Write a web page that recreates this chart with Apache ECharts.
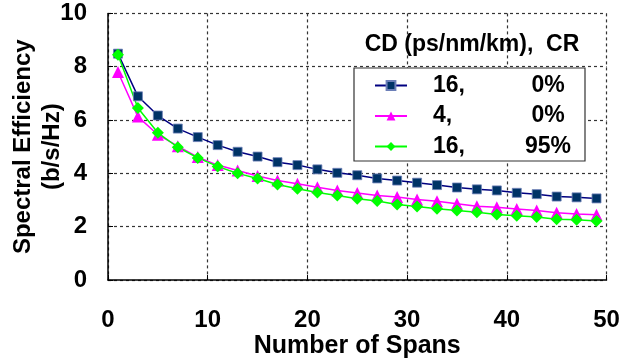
<!DOCTYPE html>
<html>
<head>
<meta charset="utf-8">
<script src="https://cdn.jsdelivr.net/npm/echarts@6/dist/echarts.min.js"></script>
<style>
html,body{margin:0;padding:0;background:#fff;}
#c{width:622px;height:363px;}
</style>
</head>
<body>
<div id="c"></div>
<script>
var spans = [1,3,5,7,9,11,13,15,17,19,21,23,25,27,29,31,33,35,37,39,41,43,45,47,49];
var cd16cr0 = [8.49,6.89,6.17,5.68,5.36,5.06,4.81,4.63,4.42,4.31,4.15,4.02,3.93,3.81,3.73,3.65,3.56,3.47,3.40,3.36,3.27,3.22,3.13,3.10,3.06];
var cd4cr0 = [7.80,6.13,5.45,5.02,4.61,4.31,4.11,3.90,3.73,3.61,3.48,3.36,3.26,3.17,3.11,3.02,2.95,2.86,2.77,2.73,2.66,2.61,2.52,2.48,2.45];
var cd16cr95 = [8.45,6.45,5.52,4.98,4.58,4.26,4.00,3.81,3.58,3.42,3.28,3.17,3.05,2.96,2.83,2.76,2.67,2.61,2.54,2.46,2.41,2.36,2.28,2.26,2.21];
var seriesNames = ['16,0%','4,0%','16,95%'];
var xTicks = [0,10,20,30,40,50];
var yTicks = [0,2,4,6,8,10];

function pairs(ys){ return spans.map(function(x,i){ return [x, ys[i]]; }); }

var FONT = "'Liberation Sans', Arial, sans-serif";
var chart = echarts.init(document.getElementById('c'), null, {renderer:'canvas'});
var gridLine = {show:true, lineStyle:{color:'#333', type:[3,3], width:1.2}};
chart.setOption({
  animation:false,
  backgroundColor:'#fff',
  grid:{left:108, right:15.5, top:13.4, bottom:83, containLabel:false, outerBoundsMode:'none'},
  xAxis:{
    type:'value', min:0, max:50, interval:10,
    name:'Number of Spans', nameLocation:'middle', nameGap:54, nameMoveOverlap:false,
    nameTextStyle:{fontFamily:FONT, fontWeight:'bold', fontSize:25, color:'#000'},
    axisLine:{show:true, onZero:false, lineStyle:{color:'#000', width:1.5}},
    axisTick:{show:true, inside:true, length:5, lineStyle:{color:'#000'}},
    axisLabel:{margin:28, fontFamily:FONT, fontWeight:'bold', fontSize:24, color:'#000',
      formatter:function(v){ return xTicks.indexOf(v)>=0 ? String(v) : ''; }},
    splitLine:gridLine
  },
  yAxis:{
    type:'value', min:0, max:10, interval:2,
    name:'Spectral Efficiency\n(b/s/Hz)', nameLocation:'middle', nameGap:41, nameRotate:90, nameMoveOverlap:false,
    nameTextStyle:{fontFamily:FONT, fontWeight:'bold', fontSize:24, color:'#000', lineHeight:29},
    axisLine:{show:true, onZero:false, lineStyle:{color:'#000', width:1.5}},
    axisTick:{show:true, inside:true, length:5, lineStyle:{color:'#000'}},
    axisLabel:{margin:21, fontFamily:FONT, fontWeight:'bold', fontSize:24, color:'#000',
      formatter:function(v){ return yTicks.indexOf(v)>=0 ? String(v) : ''; }},
    splitLine:gridLine
  },
  legend:{
    orient:'vertical', left:354, top:68,
    padding:[6,0,3,20], itemGap:7.5, itemWidth:32, itemHeight:11,
    backgroundColor:'#fff', borderColor:'#333', borderWidth:1.2,
    data:seriesNames,
    formatter:function(n){
      var p = n.split(',');
      return '{s|}{a|'+p[0]+',}{b|'+p[1]+'}';
    },
    textStyle:{
      fontFamily:FONT, fontWeight:'bold', fontSize:23, color:'#000', lineHeight:22,
      rich:{
        s:{width:21, fontSize:23, lineHeight:22},
        a:{width:78, fontFamily:FONT, fontWeight:'bold', fontSize:23, lineHeight:22, color:'#000'},
        b:{width:74, align:'center', fontFamily:FONT, fontWeight:'bold', fontSize:23, lineHeight:22, color:'#000'}
      }
    }
  },
  graphic:[{
    type:'text', x:472, y:45, z:100,
    style:{text:'CD (ps/nm/km),  CR', textAlign:'center', textVerticalAlign:'middle', fill:'#000',
      font:"bold 23px 'Liberation Sans', Arial, sans-serif"}
  }],
  series:[
    {name:seriesNames[0], type:'line', data:pairs(cd16cr0), symbol:'rect', symbolSize:9,
      lineStyle:{color:'#000080', width:1.5},
      itemStyle:{color:'#003366', borderColor:'#6c7fb8', borderWidth:0.8}},
    {name:seriesNames[1], type:'line', data:pairs(cd4cr0), symbol:'triangle', symbolSize:12,
      lineStyle:{color:'#ff00ff', width:1.5},
      itemStyle:{color:'#ff00ff'}},
    {name:seriesNames[2], type:'line', data:pairs(cd16cr95), symbol:'diamond', symbolSize:12,
      lineStyle:{color:'#00ff00', width:1.5},
      itemStyle:{color:'#00ff00'}}
  ]
});
</script>
</body>
</html>
